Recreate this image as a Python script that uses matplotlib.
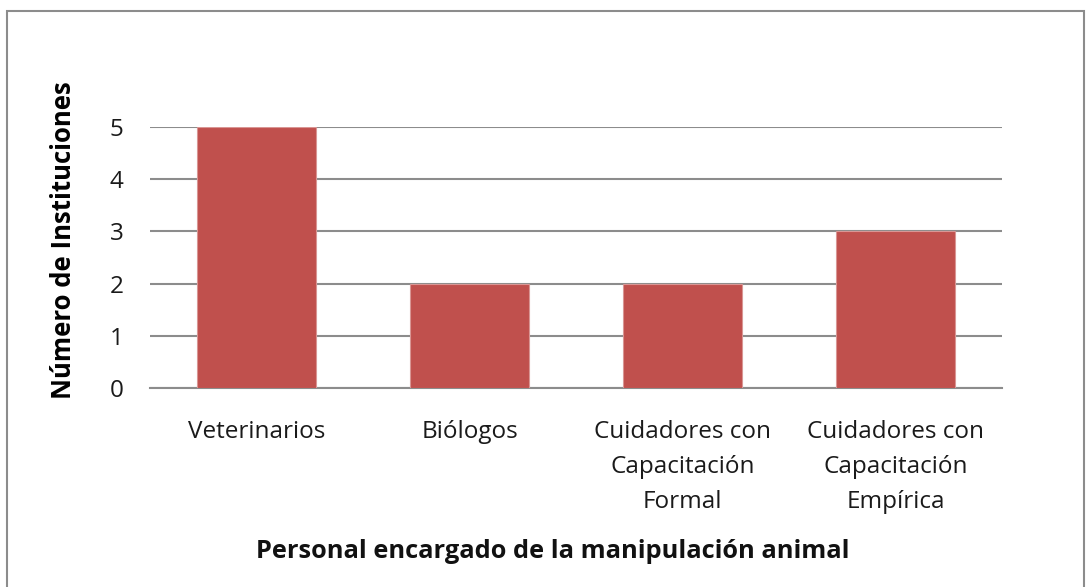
import matplotlib.pyplot as plt
from matplotlib.patches import Rectangle

# datos
categorias = ['Veterinarios', 'Biólogos', 'Cuidadores con\nCapacitación\nFormal',
              'Cuidadores con\nCapacitación\nEmpírica']
valores = [5, 2, 2, 3]
y_ticks = [0, 1, 2, 3, 4, 5]

plt.rcParams['font.family'] = ['Open Sans', 'DejaVu Sans']

fig = plt.figure(figsize=(10.91, 5.87), dpi=100)
ax = fig.add_axes([150 / 1091, 1 - 388 / 587, 852 / 1091, 261 / 587])

x = range(len(categorias))
ax.bar(x, valores, width=0.56, color='#C0504D', edgecolor='#D99694', linewidth=0.8, zorder=3)

ax.set_xlim(-0.5, len(categorias) - 0.5)
ax.set_ylim(0, 5)
ax.set_yticks(y_ticks)
ax.set_xticks(list(x))
ax.set_xticklabels(categorias, fontsize=17.5, color='#1a1a1a', linespacing=1.62)
ax.tick_params(axis='y', labelsize=17.5, labelcolor='#1a1a1a', length=0, pad=19)
ax.tick_params(axis='x', length=0, pad=23)

ax.grid(axis='y', color='#8C8C8C', linewidth=1.5, zorder=0)
for s in ['top', 'right', 'left']:
    ax.spines[s].set_visible(False)
ax.spines['bottom'].set_color('#8C8C8C')
ax.spines['bottom'].set_linewidth(1.5)

ax.set_ylabel('Número de Instituciones', fontsize=18.5, fontweight='bold')
ax.yaxis.set_label_coords(-0.086, 0.567)
fig.text(553 / 1091, 1 - 551 / 587,
         'Personal encargado de la manipulación animal',
         fontsize=18.3, fontweight='bold', ha='center', va='center', color='#111111')

# marco del gráfico
fig.patches.append(Rectangle((7 / 1091, -0.05), 1077 / 1091, 1.05 - 11 / 587,
                             transform=fig.transFigure, fill=False,
                             edgecolor='#8C8C8C', linewidth=1.5))

fig.savefig('out.png', dpi=100)
